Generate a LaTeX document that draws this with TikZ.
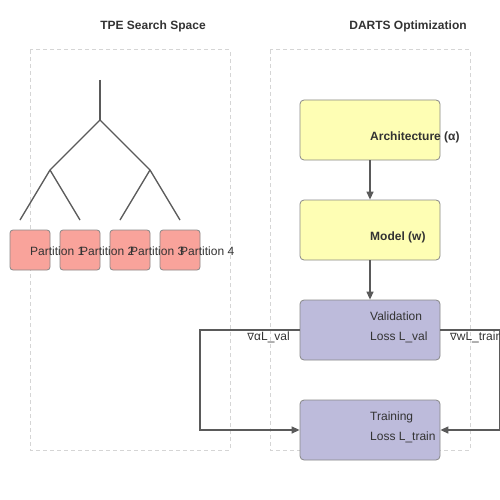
\documentclass[tikz,border=0pt]{standalone}
\usepackage{fontspec}
\setmainfont{Liberation Sans}
\newfontfamily\symfont{DejaVu Sans}
\usetikzlibrary{arrows.meta}
\definecolor{linegray}{HTML}{5A5A5A}
\definecolor{boxborder}{HTML}{888888}
\definecolor{dashgray}{HTML}{D5D5D5}
\definecolor{salmon}{HTML}{F9A39B}
\definecolor{paleyellow}{HTML}{FEFEB4}
\definecolor{lavender}{HTML}{BDBBDB}
\definecolor{txt}{HTML}{333333}
\tikzset{
  panel/.style={draw=dashgray, dash pattern=on 4pt off 3pt, line width=1pt},
  partbox/.style={draw=boxborder, fill=salmon, rounded corners=3pt, line width=0.8pt},
  archbox/.style={draw=boxborder, fill=paleyellow, rounded corners=4pt, line width=0.8pt},
  lossbox/.style={draw=boxborder, fill=lavender, rounded corners=4pt, line width=0.8pt},
  edge/.style={draw=linegray, line width=1.3pt},
  arr/.style={draw=linegray, line width=1.3pt, -{Triangle[length=8pt,width=7pt]}},
  title/.style={font=\fontsize{12}{14}\selectfont\bfseries, text=txt},
  lbl/.style={font=\fontsize{12}{14}\selectfont, text=txt, inner sep=0pt, anchor=base west},
  blbl/.style={font=\fontsize{12}{14}\selectfont\bfseries, text=txt, inner sep=0pt, anchor=base west},
}
\begin{document}
\begin{tikzpicture}[x=1pt,y=-1pt]
\useasboundingbox (0,0) rectangle (500,500);
\fill[white] (0,0) rectangle (500,500);
% titles
\node[title] (t1) at (153,26) {TPE Search Space};
\node[title] (t2) at (408,26) {DARTS Optimization};
% panels
\draw[panel] (30,50) rectangle (230,450);
\draw[panel] (270,50) rectangle (470,450);
% tree
\coordinate (r0) at (100,80);
\coordinate (r1) at (100,120);
\coordinate (a) at (50,170);
\coordinate (b) at (150,170);
\coordinate (l1) at (20,220);
\coordinate (l2) at (80,220);
\coordinate (l3) at (120,220);
\coordinate (l4) at (180,220);
\draw[edge] (r0) -- (r1);
\draw[edge] (r1) -- (a);
\draw[edge] (r1) -- (b);
\draw[edge] (a) -- (l1);
\draw[edge] (a) -- (l2);
\draw[edge] (b) -- (l3);
\draw[edge] (b) -- (l4);
% partitions
\draw[partbox] (10,230) rectangle (50,270);
\draw[partbox] (60,230) rectangle (100,270);
\draw[partbox] (110,230) rectangle (150,270);
\draw[partbox] (160,230) rectangle (200,270);
\node[lbl] (p1) at (30,255) {Partition 1};
\node[lbl] (p2) at (80,255) {Partition 2};
\node[lbl] (p3) at (130,255) {Partition 3};
\node[lbl] (p4) at (180,255) {Partition 4};
% DARTS boxes
\node[archbox, minimum width=140pt, minimum height=60pt, inner sep=0pt] (arch) at (370,130) {};
\node[archbox, minimum width=140pt, minimum height=60pt, inner sep=0pt] (model) at (370,230) {};
\node[lossbox, minimum width=140pt, minimum height=60pt, inner sep=0pt] (val) at (370,330) {};
\node[lossbox, minimum width=140pt, minimum height=60pt, inner sep=0pt] (train) at (370,430) {};
\node[blbl] (archt) at (370,140.5) {Architecture (α)};
\node[blbl] (modelt) at (370,240.5) {Model (w)};
\node[lbl] (valt1) at (370,320.5) {Validation};
\node[lbl] (valt2) at (370,340.5) {Loss L\_val};
\node[lbl] (traint1) at (370,420.5) {Training};
\node[lbl] (traint2) at (370,440.5) {Loss L\_train};
% arrows
\draw[arr] (arch.south) -- (model.north);
\draw[arr] (model.south) -- (val.north);
\coordinate (lc1) at (200,330);
\coordinate (lc2) at (200,430);
\coordinate (rc1) at (499.3,330);
\coordinate (rc2) at (499.3,430);
\draw[arr] (val.west) -- (lc1) -- (lc2) -- (train.west);
\draw[arr] (val.east) -- (rc1) -- (rc2) -- (train.east);
\node[lbl, anchor=base east] (gl) at (290,340.5) {{\symfont\fontsize{10}{12}\selectfont ∇}αL\_val};
\node[lbl] (gr) at (450,340.5) {{\symfont\fontsize{10}{12}\selectfont ∇}wL\_train};
\end{tikzpicture}
\end{document}
